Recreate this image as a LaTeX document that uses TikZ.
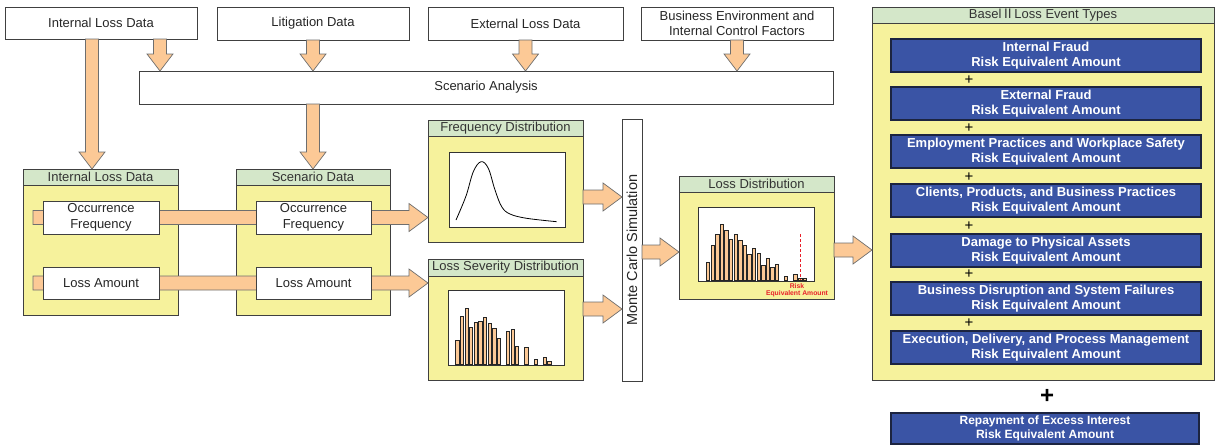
\documentclass[tikz,border=0pt]{standalone}
\usepackage{fontspec}
\setmainfont{Liberation Sans}
\newfontfamily\cjk{Noto Sans CJK JP}
\usetikzlibrary{calc}
\definecolor{peach}{HTML}{FCC996}
\definecolor{arrowline}{HTML}{6E6E6E}
\definecolor{panely}{HTML}{F6F29C}
\definecolor{hdrg}{HTML}{D4E7C9}
\definecolor{eblue}{HTML}{3A54A5}
\definecolor{eline}{HTML}{1C2440}
\definecolor{rred}{HTML}{E8202A}
\newcommand{\DArrow}[2]{%
 \draw[blockarr] ($#1+(-6.5,0)$) -- ($#2+(-6.5,-17)$) -- ($#2+(-13,-17)$) -- #2 -- ($#2+(13,-17)$) -- ($#2+(6.5,-17)$) -- ($#1+(6.5,0)$) -- cycle;}
\newcommand{\RArrow}[2]{%
 \draw[blockarr] ($#1+(0,-7)$) -- ($#2+(-19,-7)$) -- ($#2+(-19,-14)$) -- #2 -- ($#2+(-19,14)$) -- ($#2+(-19,7)$) -- ($#1+(0,7)$) -- cycle;}
\begin{document}
\begin{tikzpicture}[x=1pt,y=-1pt,font=\fontsize{13}{15.5}\selectfont,
  box/.style={draw=black!75,fill=white,text=black!85,line width=0.8pt,inner sep=0pt,outer sep=0pt,align=center,anchor=north west},
  hdr/.style={box,fill=hdrg,text=black!80},
  body/.style={box,fill=panely},
  plotbox/.style={box,draw=black!80,line width=0.9pt},
  ebox/.style={box,draw=eline,line width=1.2pt,fill=eblue,text=white,font=\bfseries\fontsize{13}{15.5}\selectfont,minimum width=310,minimum height=33},
  blockarr/.style={draw=arrowline,fill=peach,line width=0.7pt,line join=miter},
  barst/.style={draw=black!85,fill=peach,line width=0.5pt},
  plus/.style={font=\fontsize{15}{15}\selectfont,inner sep=0pt}]
\useasboundingbox (0,0) rectangle (1215,445);
% top boxes
\node[box,minimum width=192,minimum height=32] (ild) at (5,7) {Internal Loss Data};
\node[box,minimum width=192,minimum height=33] (lit) at (217,7) {Litigation Data};
\node[box,minimum width=195,minimum height=33] (eld) at (428,7) {External Loss Data};
\node[box,minimum width=192,minimum height=33] (bec) at (641,7) {Business Environment and\\Internal Control Factors};
\node[box,minimum width=694,minimum height=33] (sa) at (139,71) {Scenario Analysis};
% panels
\node[body,minimum width=155,minimum height=130] (ildb) at (23,185) {};
\node[hdr,minimum width=155,minimum height=16] (ildh) at (23,169) {Internal Loss Data};
\node[body,minimum width=154,minimum height=130] (sdb) at (236,185) {};
\node[hdr,minimum width=154,minimum height=16] (sdh) at (236,169) {Scenario Data};
\node[body,minimum width=155,minimum height=106] (fdb) at (428,136) {};
\node[hdr,minimum width=155,minimum height=16] (fdh) at (428,120) {Frequency Distribution};
\node[plotbox,minimum width=116,minimum height=75] (fdp) at (449,152) {};
\node[body,minimum width=155,minimum height=104] (svb) at (428,276) {};
\node[hdr,minimum width=155,minimum height=17] (svh) at (428,259) {Loss Severity Distribution};
\node[plotbox,minimum width=116,minimum height=75] (svp) at (448,290) {};
\node[box,minimum width=20,minimum height=262] (mc) at (622,119) {};
\node[rotate=90,text=black!85,font=\fontsize{14.5}{16}\selectfont] (mct) at (mc.center) {Monte Carlo Simulation};
\node[body,minimum width=155,minimum height=107] (ldb) at (679,192) {};
\node[hdr,minimum width=155,minimum height=16] (ldh) at (679,176) {Loss Distribution};
\node[plotbox,minimum width=116,minimum height=74] (ldp) at (698,207) {};
\node[body,minimum width=342,minimum height=357] (rpb) at (872,23) {};
\node[hdr,minimum width=342,minimum height=16] (rph) at (872,7) {Basel{\cjk Ⅱ}Loss Event Types};
% vertical arrows
\coordinate (a1) at ([xshift=-9]ild.south);
\coordinate (a2) at ([xshift=59]ild.south);
\DArrow{(a1)}{(a1 |- ildh.north)}
\DArrow{(a2)}{(a2 |- sa.north)}
\DArrow{(lit.south)}{(lit.south |- sa.north)}
\DArrow{(eld.south)}{(eld.south |- sa.north)}
\DArrow{(bec.south)}{(bec.south |- sa.north)}
\DArrow{(sdh.north |- sa.south)}{(sdh.north)}
% white data boxes and long arrows
\coordinate (s1) at (33,217.5);
\coordinate (s2) at (33,283);
\RArrow{(s1)}{(s1 -| fdb.west)}
\RArrow{(s2)}{(s2 -| svb.west)}
\node[box,minimum width=116,minimum height=33] (oc1) at (43,201) {Occurrence\\Frequency};
\node[box,minimum width=116,minimum height=32] (la1) at (43,267) {Loss Amount};
\node[box,minimum width=115,minimum height=33] (oc2) at (256,201) {Occurrence\\Frequency};
\node[box,minimum width=115,minimum height=32] (la2) at (256,267) {Loss Amount};
% arrows to / from Monte Carlo
\coordinate (f1) at ([yshift=-8]fdb.east);
\coordinate (f2) at ([yshift=19]svb.east);
\coordinate (m1) at ([yshift=-2]mc.east);
\coordinate (l1) at ([yshift=-4.5]ldb.east);
\RArrow{(f1)}{(f1 -| mc.west)}
\RArrow{(f2)}{(f2 -| mc.west)}
\RArrow{(m1)}{(m1 -| ldb.west)}
\RArrow{(l1)}{(l1 -| rpb.west)}
% frequency curve
\draw[line width=0.8pt,black] plot[smooth,tension=0.6] coordinates {(456,220) (466,196) (473.3,171.7) (481,161.7) (488.3,168.3) (495,190) (501.7,206.7) (510,214) (526.7,218.3) (556.7,221.7)};
% severity bars
\foreach \bx/\by in {457.3/340.3,461.7/316.3,466.7/308.7,471/327,475.7/322,480.3/321.3,485/317,489.7/323,494.3/328.7,498.7/338,507.7/331.3,512.7/329.7,517/346.3,526.3/347.7,535.7/359.3,544.7/357.3,549.3/361}
  \draw[barst] (\bx-1.6,364) rectangle (\bx+1.6,\by);
% loss distribution bars
\foreach \bx/\by in {708/262,712.7/245.7,717.3/234.7,722/224.7,726.3/230,731/239,735.7/234,740.3/240,745/245.7,749.3/254.7,754/248.3,758.7/253.7,763.3/265.3,767.7/258.3,772.3/267.3,777/264.7,786/276.3,795.3/274.3,800.3/278,804.7/278}
  \draw[barst] (\bx-1.6,280.5) rectangle (\bx+1.6,\by);
\draw[rred,line width=0.8pt,dash pattern=on 3pt off 2pt] (800,234) -- (800,280);
\node[text=rred,font=\bfseries\fontsize{6.8}{7.2}\selectfont,align=center,inner sep=0pt] (rea) at (797,290) {Risk\\Equivalent Amount};
% event types
\node[ebox] (e1) at (891,39) {Internal Fraud\\Risk Equivalent Amount};
\node[plus] (p1) at (969,80) {+};
\node[ebox] (e2) at (891,87) {External Fraud\\Risk Equivalent Amount};
\node[plus] (p2) at (969,128) {+};
\node[ebox] (e3) at (891,135) {Employment Practices and Workplace Safety\\Risk Equivalent Amount};
\node[plus] (p3) at (969,177) {+};
\node[ebox] (e4) at (891,184) {Clients, Products, and Business Practices\\Risk Equivalent Amount};
\node[plus] (p4) at (969,226) {+};
\node[ebox] (e5) at (891,234) {Damage to Physical Assets\\Risk Equivalent Amount};
\node[plus] (p5) at (969,274) {+};
\node[ebox] (e6) at (891,282) {Business Disruption and System Failures\\Risk Equivalent Amount};
\node[plus] (p6) at (969,323) {+};
\node[ebox] (e7) at (891,331) {Execution, Delivery, and Process Management\\Risk Equivalent Amount};
\node[font=\bfseries\fontsize{24}{24}\selectfont,inner sep=0pt] (bp) at (1047,396) {+};
\node[ebox,minimum width=308,minimum height=31,font=\bfseries\fontsize{12}{14}\selectfont] (e8) at (891,413) {Repayment of Excess Interest\\Risk Equivalent Amount};
\end{tikzpicture}
\end{document}
